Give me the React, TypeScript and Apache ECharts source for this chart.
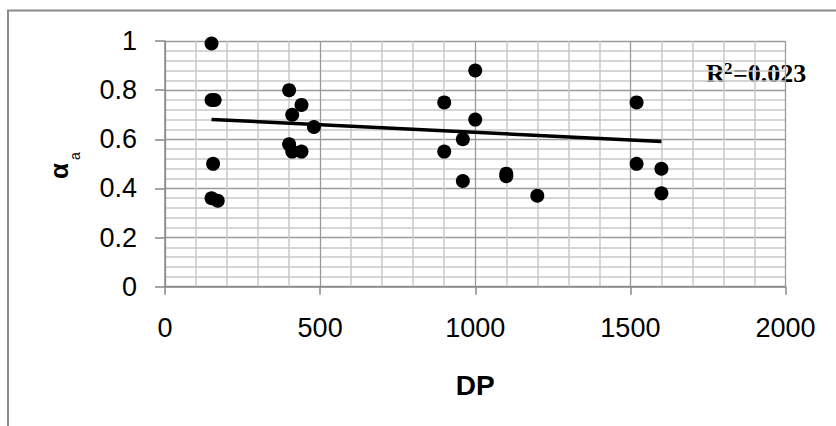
import React, { useEffect, useRef } from "react";
import * as echarts from "echarts";

// Observed points: degree of polymerisation vs. alpha_a
const dpValues = [
  150, 150, 160, 400, 440, 410, 480, 400, 410, 440, 155, 150, 170,
  1000, 900, 1000, 960, 900, 960, 1100, 1100, 1200, 1520, 1520, 1600, 1600,
];
const alphaValues = [
  0.99, 0.76, 0.76, 0.8, 0.74, 0.7, 0.65, 0.58, 0.55, 0.55, 0.5, 0.36, 0.35,
  0.88, 0.75, 0.68, 0.6, 0.55, 0.43, 0.46, 0.45, 0.37, 0.75, 0.5, 0.48, 0.38,
];

// Linear trend line end points
const trendDp = [150, 1600];
const trendAlpha = [0.681, 0.591];
const rSquared = "0.023";

// Axis ranges: [min, max, interval]
const xRange = [0, 2000, 500];
const yRange = [0, 1, 0.2];

const SANS = "'Liberation Sans', Arial, sans-serif";
const SERIF = "'Liberation Serif', 'Times New Roman', serif";

export default function App() {
  const ref = useRef<HTMLDivElement>(null);

  useEffect(() => {
    if (!ref.current) return;
    const chart = echarts.init(ref.current, null, { renderer: "svg" });

    const points = dpValues.map((x, i) => [x, alphaValues[i]]);
    const trend = trendDp.map((x, i) => [x, trendAlpha[i]]);

    const axisLineStyle = { color: "#888", width: 1.5 };
    const majorGrid = { show: true, lineStyle: { color: "#9a9a9a", width: 1.3 } };
    const minorGrid = { show: true, lineStyle: { color: "#c8c8c8", width: 1.5 } };
    const plain = (v: number) => String(v);

    const serifBold = {
      fontFamily: SERIF,
      fontWeight: "bold",
      fill: "#000",
      align: "left",
      verticalAlign: "middle",
    };

    chart.setOption({
      animation: false,
      backgroundColor: "#fff",
      grid: { left: 165, right: 50.5, top: 41, bottom: 139.3 },
      xAxis: {
        type: "value",
        min: xRange[0],
        max: xRange[1],
        interval: xRange[2],
        name: "DP",
        nameLocation: "middle",
        nameGap: 85,
        nameTextStyle: { fontFamily: SANS, fontSize: 28, fontWeight: "bold", color: "#000" },
        axisLine: { show: true, lineStyle: axisLineStyle },
        axisTick: { show: true, length: 8, lineStyle: axisLineStyle },
        axisLabel: { margin: 28, fontFamily: SANS, fontSize: 27, color: "#000", formatter: plain },
        splitLine: majorGrid,
        minorTick: { show: false, splitNumber: 5 },
        minorSplitLine: minorGrid,
      },
      yAxis: {
        type: "value",
        min: yRange[0],
        max: yRange[1],
        interval: yRange[2],
        axisLine: { show: true, lineStyle: axisLineStyle },
        axisTick: { show: true, length: 10, lineStyle: axisLineStyle },
        axisLabel: { margin: 28, fontFamily: SANS, fontSize: 27, color: "#000" },
        splitLine: majorGrid,
        minorTick: { show: false, splitNumber: 5 },
        minorSplitLine: minorGrid,
      },
      series: [
        {
          type: "line",
          data: trend,
          showSymbol: false,
          symbol: "none",
          lineStyle: { color: "#000", width: 3.5 },
          z: 3,
        },
        {
          type: "scatter",
          data: points,
          symbol: "circle",
          symbolSize: 14,
          itemStyle: { color: "#000", opacity: 1 },
          z: 4,
        },
      ],
      graphic: [
        {
          type: "rect",
          shape: { x: 8, y: 10.5, width: 900, height: 500 },
          style: { fill: "none", stroke: "#8a8a8a", lineWidth: 2 },
          silent: true,
          z: 100,
        },
        {
          type: "text",
          x: 59,
          y: 171,
          rotation: Math.PI / 2,
          style: {
            text: "α",
            fontFamily: SANS,
            fontSize: 26,
            fontWeight: "bold",
            fill: "#000",
            align: "center",
            verticalAlign: "middle",
          },
        },
        {
          type: "text",
          x: 75,
          y: 156,
          rotation: Math.PI / 2,
          style: {
            text: "a",
            fontFamily: SANS,
            fontSize: 14,
            fill: "#000",
            align: "center",
            verticalAlign: "middle",
          },
        },
        // R² annotation: base letter, superscript, value
        {
          type: "text",
          x: 706,
          y: 73,
          style: { ...serifBold, text: "R", fontSize: 26 },
        },
        {
          type: "text",
          x: 724,
          y: 68,
          style: { ...serifBold, text: "2", fontSize: 17 },
        },
        {
          type: "text",
          x: 733,
          y: 73,
          style: { ...serifBold, text: "=" + rSquared, fontSize: 26 },
        },
      ],
    });

    return () => chart.dispose();
  }, []);

  return (
    <div
      ref={ref}
      style={{ position: "fixed", left: 0, top: 0, width: 836, height: 426 }}
    />
  );
}
